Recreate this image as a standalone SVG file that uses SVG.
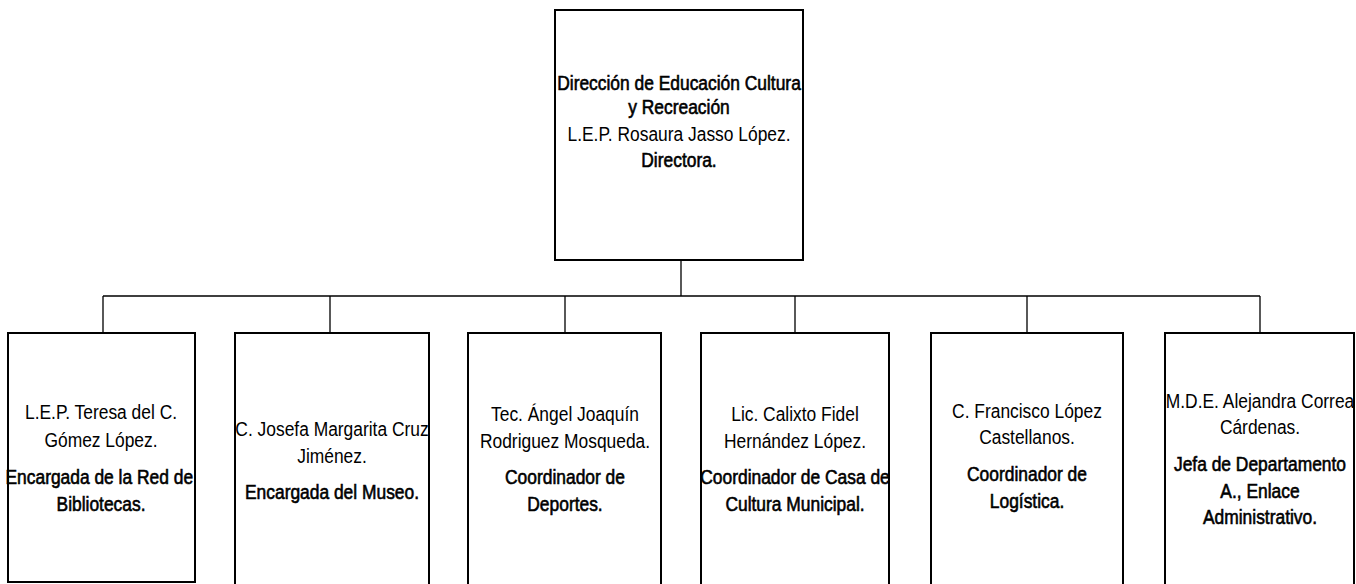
<svg xmlns="http://www.w3.org/2000/svg" width="1356" height="584" viewBox="0 0 1356 584">
<style>
.box{fill:#fff;stroke:#000;stroke-width:2}
.con{fill:none;stroke:#000;stroke-width:1.3}
text{font-family:"Liberation Sans",Arial,sans-serif;font-size:20px;fill:#000;text-anchor:middle}
.b{stroke:#000;stroke-width:0.6}
</style>
<rect width="1356" height="584" fill="#fff"/>
<g id="connectors">
<path class="con" d="M681 260V296M103 296H1260M103 296V333M330 296V333M565 296V333M795 296V333M1027 296V333M1260 296V333"/>
</g>
<g id="director">
<rect class="box" x="555" y="10" width="248" height="250"/>
<g transform="translate(679 0) scale(0.87 1)">
<text x="0" y="90" class="b">Dirección de Educación Cultura</text>
<text x="0" y="114" class="b">y Recreación</text>
<text x="0" y="141">L.E.P. Rosaura Jasso López.</text>
<text x="0" y="167" class="b">Directora.</text>
</g>
</g>
<g id="bibliotecas">
<rect class="box" x="8" y="333" width="187" height="249"/>
<g transform="translate(101 0) scale(0.87 1)">
<text x="0" y="419">L.E.P. Teresa del C.</text>
<text x="0" y="447">Gómez López.</text>
<text x="-2" y="484" class="b">Encargada de la Red de</text>
<text x="0" y="511" class="b">Bibliotecas.</text>
</g>
</g>
<g id="museo">
<rect class="box" x="235" y="333" width="194" height="260"/>
<g transform="translate(332 0) scale(0.87 1)">
<text x="0" y="436">C. Josefa Margarita Cruz</text>
<text x="0" y="463">Jiménez.</text>
<text x="0" y="499" class="b">Encargada del Museo.</text>
</g>
</g>
<g id="deportes">
<rect class="box" x="468" y="333" width="193" height="260"/>
<g transform="translate(565 0) scale(0.87 1)">
<text x="0" y="421">Tec. Ángel Joaquín</text>
<text x="0" y="448">Rodriguez Mosqueda.</text>
<text x="0" y="484" class="b">Coordinador de</text>
<text x="0" y="511" class="b">Deportes.</text>
</g>
</g>
<g id="casa-cultura">
<rect class="box" x="701" y="333" width="188" height="260"/>
<g transform="translate(795 0) scale(0.87 1)">
<text x="0" y="421">Lic. Calixto Fidel</text>
<text x="0" y="448">Hernández López.</text>
<text x="0" y="484" class="b">Coordinador de Casa de</text>
<text x="0" y="511" class="b">Cultura Municipal.</text>
</g>
</g>
<g id="logistica">
<rect class="box" x="931" y="333" width="192" height="260"/>
<g transform="translate(1027 0) scale(0.87 1)">
<text x="0" y="418">C. Francisco López</text>
<text x="0" y="444">Castellanos.</text>
<text x="0" y="481" class="b">Coordinador de</text>
<text x="0" y="508" class="b">Logística.</text>
</g>
</g>
<g id="enlace">
<rect class="box" x="1165" y="333" width="189" height="260"/>
<g transform="translate(1260 0) scale(0.87 1)">
<text x="0" y="408">M.D.E. Alejandra Correa</text>
<text x="0" y="434">Cárdenas.</text>
<text x="0" y="471" class="b">Jefa de Departamento</text>
<text x="0" y="498" class="b">A., Enlace</text>
<text x="0" y="524" class="b">Administrativo.</text>
</g>
</g>
</svg>
